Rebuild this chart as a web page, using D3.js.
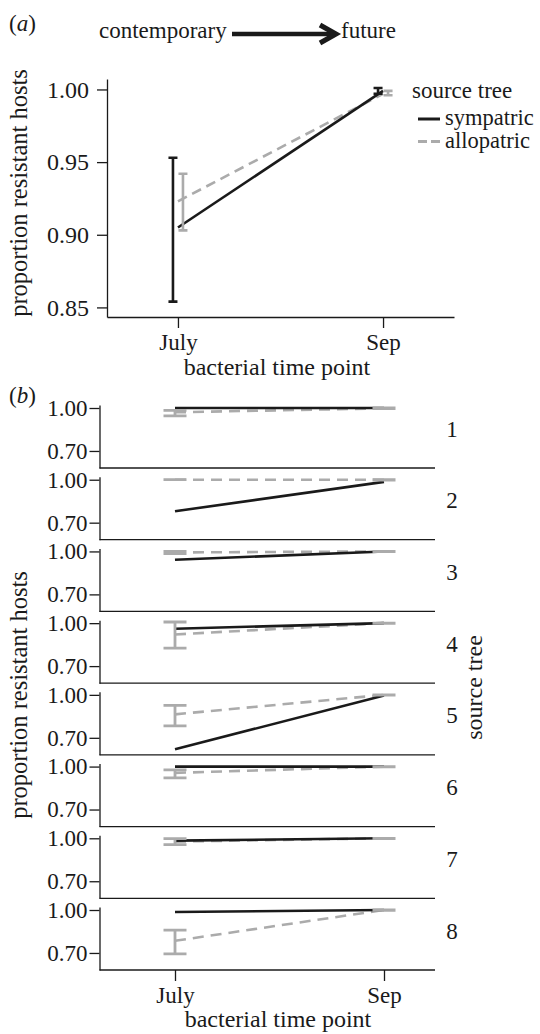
<!DOCTYPE html>
<html>
<head>
<meta charset="utf-8">
<script src="https://cdn.jsdelivr.net/npm/d3@7"></script>
<style>
  body { margin: 0; background: #fff; }
  text { font-family: "Liberation Serif", "DejaVu Serif", serif; fill: #1a1a1a; }
  .axis path, .axis line { stroke: #1a1a1a; stroke-width: 1.3; }
  .axis text { font-size: 23px; }
</style>
</head>
<body>
<div id="chart"></div>
<script>
// time points and groups
const timePoints = ["July", "Sep"];
const sourceTypes = ["sympatric", "allopatric"];

// panel (a): means and error bar limits
const aSympMean = [0.905, 0.999];
const aSympLow  = [0.854, 0.997];
const aSympHigh = [0.953, 1.001];
const aAlloMean = [0.923, 0.997];
const aAlloLow  = [0.903, 0.996];
const aAlloHigh = [0.942, 0.999];
const aTicks = [0.85, 0.90, 0.95, 1.00];

// panel (b): one facet per source tree
const trees = [1, 2, 3, 4, 5, 6, 7, 8];
const bSympJuly = [1.00, 0.78, 0.942, 0.961, 0.62, 1.00, 0.984, 0.986];
const bSympSep  = [1.00, 0.985, 1.00, 1.00, 0.995, 1.00, 1.00, 1.00];
const bAlloJuly     = [0.970, 1.00, 0.993, 0.921, 0.864, 0.956, 0.977, 0.785];
const bAlloJulyLow  = [0.945, 1.00, 0.985, 0.826, 0.784, 0.921, 0.956, 0.693];
const bAlloJulyHigh = [0.983, 1.00, 1.00, 1.008, 0.927, 0.977, 0.998, 0.859];
const bAlloSep      = [0.998, 1.00, 1.00, 1.00, 1.00, 1.00, 1.00, 1.00];
const bAlloSepLow   = [0.995, 0.998, 0.998, 0.998, 0.998, 0.998, 0.998, 0.998];
const bAlloSepHigh  = [1.00, 1.00, 1.00, 1.00, 1.00, 1.00, 1.00, 1.00];
const bTicks = [0.70, 1.00];

const black = "#1a1a1a", grey = "#ababab";

const svg = d3.select("#chart").append("svg")
    .attr("width", 540).attr("height", 1034);

// ---------- panel (a) ----------
const xA = d3.scalePoint().domain(timePoints).range([107, 454]).padding(0.346);
const yA = d3.scaleLinear().domain([0.8434, 1.0072]).range([317, 79]);

svg.append("text").attr("x", 9).attr("y", 31).style("font-size", "23px")
    .html('(<tspan font-style="italic">a</tspan>)');

svg.append("text").attr("x", 99).attr("y", 38).style("font-size", "23px").text("contemporary");
svg.append("text").attr("x", 341).attr("y", 38).style("font-size", "23px").text("future");
svg.append("path").attr("d", "M232,34H331").attr("stroke", black).attr("stroke-width", 4.5);
svg.append("path").attr("d", "M320,25L336,34L320,43").attr("fill", "none")
    .attr("stroke", black).attr("stroke-width", 5);

const gA = svg.append("g");
gA.append("g").attr("class", "axis").attr("transform", "translate(107,0)")
    .call(d3.axisLeft(yA).tickValues(aTicks).tickFormat(d3.format(".2f")).tickSize(10).tickPadding(8).tickSizeOuter(0))
    .call(g => g.selectAll("text").style("font-size", "24px"));
gA.append("g").attr("class", "axis").attr("transform", "translate(0,317)")
    .call(d3.axisBottom(xA).tickSize(11).tickPadding(6).tickSizeOuter(0))
    .call(g => g.selectAll("text").attr("dy", "0.71em"));

gA.append("text").attr("x", 277).attr("y", 375).attr("text-anchor", "middle")
    .style("font-size", "24px").text("bacterial time point");
gA.append("text").attr("transform", "translate(27,193) rotate(-90)")
    .attr("text-anchor", "middle").style("font-size", "24.5px").text("proportion resistant hosts");

const aSeries = [
  { name: "sympatric", mean: aSympMean, low: aSympLow, high: aSympHigh, color: black, dash: null, dodge: -5 },
  { name: "allopatric", mean: aAlloMean, low: aAlloLow, high: aAlloHigh, color: grey, dash: "10,6", dodge: 5 }
];
const lineA = d3.line().x(d => xA(d.t)).y(d => yA(d.v));
aSeries.slice().reverse().forEach(s => {
  gA.append("path")
      .datum(timePoints.map((t, i) => ({ t, v: s.mean[i] })))
      .attr("d", lineA).attr("fill", "none")
      .attr("stroke", s.color).attr("stroke-width", 2.6)
      .attr("stroke-dasharray", s.dash);
});
aSeries.forEach(s => {
  timePoints.forEach((t, i) => {
    const x = xA(t) + s.dodge, w = 4.5;
    gA.append("path")
        .attr("d", `M${x - w},${yA(s.high[i])}H${x + w}M${x},${yA(s.high[i])}V${yA(s.low[i])}M${x - w},${yA(s.low[i])}H${x + w}`)
        .attr("fill", "none").attr("stroke", s.color).attr("stroke-width", 2.6);
  });
});

// legend
const leg = svg.append("g");
leg.append("text").attr("x", 412).attr("y", 98).style("font-size", "23px").text("source tree");
aSeries.forEach((s, i) => {
  const y = 119 + i * 22.5;
  leg.append("line").attr("x1", 418).attr("x2", 440).attr("y1", y).attr("y2", y)
      .attr("stroke", s.color).attr("stroke-width", 3).attr("stroke-dasharray", s.dash ? "9,4" : null);
  leg.append("text").attr("x", 445).attr("y", y + 6).style("font-size", "22.5px").text(s.name);
});

// ---------- panel (b) ----------
const xB = d3.scalePoint().domain(timePoints).range([175, 384]);
const bLeft = 99.5, bRight = 435;
const facetTop = d3.scaleLinear().domain([1, 8]).range([405, 907]);
const facetH = 63;

svg.append("text").attr("x", 9).attr("y", 403).style("font-size", "23px")
    .html('(<tspan font-style="italic">b</tspan>)');

const lineB = d3.line().x(d => xB(d.t)).y(d => d.y);

trees.forEach((tree, k) => {
  const top = facetTop(tree), bottom = top + facetH;
  const yB = d3.scaleLinear().domain([0.581, 1.021]).range([bottom, top]);
  const g = svg.append("g");

  g.append("g").attr("class", "axis").attr("transform", `translate(${bLeft},0)`)
      .call(d3.axisLeft(yB).tickValues(bTicks).tickFormat(d3.format(".2f")).tickSize(10).tickPadding(2).tickSizeOuter(0));
  g.append("line").attr("x1", bLeft).attr("x2", bRight).attr("y1", bottom).attr("y2", bottom)
      .attr("stroke", black).attr("stroke-width", 1.3);

  g.append("text").attr("x", 452).attr("y", bottom - 31.5).attr("text-anchor", "middle")
      .style("font-size", "23px").text(tree);

  g.append("path")
      .datum([{ t: "July", y: yB(bAlloJuly[k]) }, { t: "Sep", y: yB(bAlloSep[k]) }])
      .attr("d", lineB).attr("fill", "none").attr("stroke", grey)
      .attr("stroke-width", 2.6).attr("stroke-dasharray", "11,7");
  g.append("path")
      .datum([{ t: "July", y: yB(bSympJuly[k]) }, { t: "Sep", y: yB(bSympSep[k]) }])
      .attr("d", lineB).attr("fill", "none").attr("stroke", black).attr("stroke-width", 2.6);

  const bars = [
    { t: "July", lo: bAlloJulyLow[k], hi: bAlloJulyHigh[k] },
    { t: "Sep", lo: bAlloSepLow[k], hi: bAlloSepHigh[k] }
  ];
  bars.forEach(b => {
    const x = xB(b.t), w = 11.5;
    g.append("path")
        .attr("d", `M${x - w},${yB(b.hi)}H${x + w}M${x},${yB(b.hi)}V${yB(b.lo)}M${x - w},${yB(b.lo)}H${x + w}`)
        .attr("fill", "none").attr("stroke", grey).attr("stroke-width", 2.8);
  });

  if (k === trees.length - 1) {
    g.append("g").attr("class", "axis").attr("transform", `translate(0,${bottom})`)
        .call(d3.axisBottom(xB).tickSize(11).tickPadding(6).tickSizeOuter(0))
        .call(ax => ax.select(".domain").remove())
        .call(ax => ax.selectAll("text").attr("dy", "0.71em"));
  }
});

const bTop = facetTop(1), bBottom = facetTop(8) + facetH;
svg.append("text").attr("x", 278).attr("y", 1027).attr("text-anchor", "middle")
    .style("font-size", "24px").text("bacterial time point");
svg.append("text").attr("transform", "translate(27,695) rotate(-90)")
    .attr("text-anchor", "middle").style("font-size", "24.5px").text("proportion resistant hosts");
svg.append("text").attr("transform", `translate(482,${(bTop + bBottom) / 2}) rotate(-90)`)
    .attr("text-anchor", "middle").style("font-size", "24px").text("source tree");
</script>
</body>
</html>
